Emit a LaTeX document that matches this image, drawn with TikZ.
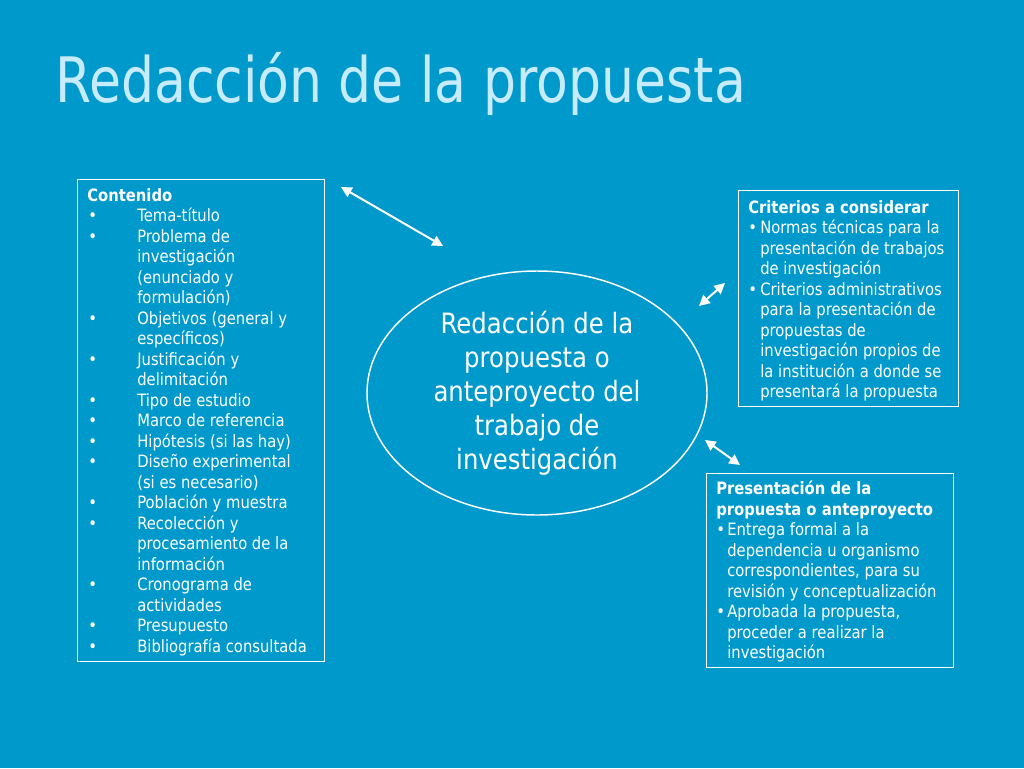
\documentclass[tikz,border=0pt]{standalone}
\usepackage{fontspec}
\setmainfont[FakeStretch=0.87]{DejaVu Sans}
\newfontfamily\fuentetitulo[FakeStretch=0.83]{DejaVu Sans}
\usetikzlibrary{arrows.meta,shapes.geometric}
\newdimen\pxu \pxu=0.75pt
\definecolor{fondo}{HTML}{0099CC}
\definecolor{titulo}{HTML}{C6ECFB}
\newcommand\bala[1]{\makebox[#1\pxu][l]{•}}
\newcommand\sangria[1]{\hspace*{#1\pxu}}

\begin{document}
\begin{tikzpicture}[x=0.75pt,y=-0.75pt,
    caja/.style={draw=white, line width=0.9pt, anchor=north west, inner sep=0pt},
    texto/.style={anchor=north west, inner sep=0pt, align=left, text=white,
        font=\fontsize{12.75}{15.375}\selectfont},
    flecha/.style={white, line width=1.5pt, {Triangle[length=8pt,width=8pt]}-{Triangle[length=8pt,width=8pt]}}]
    \fill[fondo] (0,0) rectangle (1024,768);
    \node[anchor=base west, text=titulo, font=\fuentetitulo\fontsize{47}{56}\selectfont, inner sep=0pt] (titulo) at (55,102) {Redacción de la propuesta};
    % caja de la izquierda
    \node[caja, minimum width=185.25pt, minimum height=361.5pt] (contenido) at (77,179) {};
    \node[texto] (tcontenido) at ([xshift=7.5pt,yshift=-6.75pt]contenido.north west) {\textbf{Contenido}\\
        \sangria{1}\bala{49}Tema-título\\
        \sangria{1}\bala{49}Problema de\\
        \sangria{50}investigación\\
        \sangria{50}(enunciado y\\
        \sangria{50}formulación)\\
        \sangria{1}\bala{49}Objetivos (general y\\
        \sangria{50}específicos)\\
        \sangria{1}\bala{49}Justificación y\\
        \sangria{50}delimitación\\
        \sangria{1}\bala{49}Tipo de estudio\\
        \sangria{1}\bala{49}Marco de referencia\\
        \sangria{1}\bala{49}Hipótesis (si las hay)\\
        \sangria{1}\bala{49}Diseño experimental\\
        \sangria{50}(si es necesario)\\
        \sangria{1}\bala{49}Población y muestra\\
        \sangria{1}\bala{49}Recolección y\\
        \sangria{50}procesamiento de la\\
        \sangria{50}información\\
        \sangria{1}\bala{49}Cronograma de\\
        \sangria{50}actividades\\
        \sangria{1}\bala{49}Presupuesto\\
        \sangria{1}\bala{49}Bibliografía consultada};
    % elipse central
    \node[draw=white, line width=1.1pt, ellipse, minimum width=255pt, minimum height=183pt, inner sep=0pt,
        align=center, text=white, font=\fontsize{21}{25.5}\selectfont] (centro) at (537,393)
        {Redacción de la\\ propuesta o\\ anteproyecto del\\ trabajo de\\ investigación};
    % cajas de la derecha
    \node[caja, minimum width=165pt, minimum height=162pt] (criterios) at (738,190) {};
    \node[texto] (tcriterios) at ([xshift=7.5pt,yshift=-7.5pt]criterios.north west) {\textbf{Criterios a considerar}\\
        \bala{12}Normas técnicas para la\\
        \sangria{12}presentación de trabajos\\
        \sangria{12}de investigación\\
        \bala{12}Criterios administrativos\\
        \sangria{12}para la presentación de\\
        \sangria{12}propuestas de\\
        \sangria{12}investigación propios de\\
        \sangria{12}la institución a donde se\\
        \sangria{12}presentará la propuesta};
    \node[caja, minimum width=185.25pt, minimum height=145.5pt] (presentacion) at (706,473) {};
    \node[texto] (tpresentacion) at ([xshift=7.5pt,yshift=-6pt]presentacion.north west) {\textbf{Presentación de la}\\
        \textbf{propuesta o anteproyecto}\\
        \bala{11}Entrega formal a la\\
        \sangria{11}dependencia u organismo\\
        \sangria{11}correspondientes, para su\\
        \sangria{11}revisión y conceptualización\\
        \bala{11}Aprobada la propuesta,\\
        \sangria{11}proceder a realizar la\\
        \sangria{11}investigación};
    % flechas
    \coordinate (f1a) at (341,187);
    \coordinate (f1b) at (443,246);
    \coordinate (f2a) at (725,283);
    \coordinate (f2b) at (699,306);
    \coordinate (f3a) at (705,440);
    \coordinate (f3b) at (740,465);
    \draw[flecha] (f1a) -- (f1b);
    \draw[flecha] (f2a) -- (f2b);
    \draw[flecha] (f3a) -- (f3b);
\end{tikzpicture}
\end{document}
